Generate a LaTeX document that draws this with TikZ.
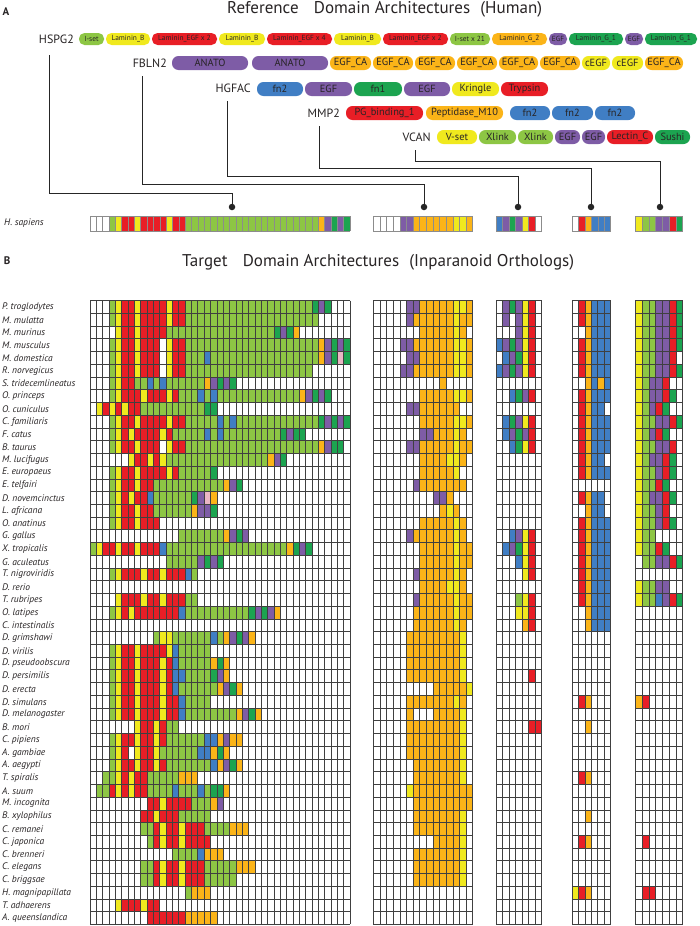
\documentclass[tikz,border=0pt]{standalone}
\usepackage{fontspec}
\setmainfont{PT Sans}
\usetikzlibrary{calc}
\definecolor{celly}{RGB}{240,233,30}
\definecolor{cellr}{RGB}{232,30,38}
\definecolor{cellg}{RGB}{141,198,68}
\definecolor{celld}{RGB}{28,164,80}
\definecolor{cellb}{RGB}{64,126,196}
\definecolor{cellp}{RGB}{126,92,166}
\definecolor{cello}{RGB}{251,180,24}
\definecolor{cellk}{RGB}{234,182,196}
\definecolor{txt}{RGB}{40,36,37}
\newcount\cellidx
\def\cellrow#1#2#3#4#5{\def\cellX{#1}\def\cellW{#2}\def\cellY{#3}\def\cellH{#4}\cellidx=0 \expandafter\cellloop#5\relax}
\def\cellloop#1{\ifx#1\relax\else\if#1w\else\fill[cell#1] ({\cellX+\the\cellidx*\cellW},\cellY) rectangle ++(\cellW,\cellH);\fi\advance\cellidx by 1 \expandafter\cellloop\fi}
\newcommand\sprow[7]{%
 \pgfmathsetmacro\rowtop{300.6+(#1-1)*12.73}%
 \cellrow{90}{6.341}{\rowtop}{12.73}{#3}%
 \cellrow{373.3}{6.627}{\rowtop}{12.73}{#4}%
 \cellrow{496}{6.53}{\rowtop}{12.73}{#5}%
 \cellrow{572}{6.45}{\rowtop}{12.73}{#6}%
 \cellrow{635.3}{6.77}{\rowtop}{12.73}{#7}%
 \node[splab] (sp#1) at (2,\rowtop+6.5) {#2};}
\newcommand\pill[7][pillL]{\node[#1, fill=cell#6, minimum width={#4-#3}] (#2) at ({(#3+#4)/2},#5) {#7};}
\tikzset{
 splab/.style={anchor=west, inner sep=0pt, text=txt, font=\fontsize{9.5}{10}\selectfont\itshape},
 pillL/.style={rectangle, rounded corners=6.5pt, inner sep=0pt, minimum height=14pt, text=txt, font=\fontsize{10.4}{11}\selectfont},
 pillS/.style={rectangle, rounded corners=5.5pt, inner sep=0pt, minimum height=12pt, text=txt, font=\fontsize{7.4}{8}\selectfont},
 gene/.style={anchor=east, inner sep=0pt, text=txt, font=\fontsize{12}{13}\selectfont},
 ttl/.style={anchor=base west, inner sep=0pt, text=txt, font=\fontsize{17}{18}\selectfont},
 panel/.style={anchor=center, inner sep=0pt, text=txt, font=\bfseries\fontsize{11}{12}\selectfont},
 gridl/.style={draw=black!75, line width=0.62pt},
 hgrid/.style={draw=black!45, line width=0.5pt},
 conn/.style={draw=black!85, line width=0.95pt},
 dot/.style={circle, fill=black!85, inner sep=0pt, minimum size=6.5pt},
}
\begin{document}
\begin{tikzpicture}[x=1pt,y=-1pt]
\useasboundingbox[fill=white] (0,0) rectangle (700,926);
% ---------- panel A ----------
\node[panel] (labA) at (6,12) {A};
\node[ttl] (ttlA) at (227,13.5) {Reference\hspace{0.9em}Domain Architectures\hspace{0.6em}(Human)};
\node[gene] (gH) at (74,39) {HSPG2};
\node[gene] (gF) at (167,63) {FBLN2};
\node[gene] (gG) at (251,88) {HGFAC};
\node[gene] (gM) at (340,113) {MMP2};
\node[gene] (gV) at (431,137) {VCAN};
\pill[pillS]{ph1}{79}{104}{39}{g}{I-set}
\pill[pillS]{ph2}{106}{150}{39}{y}{Laminin\_B}
\pill[pillS]{ph3}{152}{217}{39}{r}{Laminin\_EGF x 2}
\pill[pillS]{ph4}{219}{265}{39}{y}{Laminin\_B}
\pill[pillS]{ph5}{267}{332}{39}{r}{Laminin\_EGF x 4}
\pill[pillS]{ph6}{334}{381}{39}{y}{Laminin\_B}
\pill[pillS]{ph7}{383}{448}{39}{r}{Laminin\_EGF x 2}
\pill[pillS]{ph8}{450}{490}{39}{g}{I-set x 21}
\pill[pillS]{ph9}{492}{547}{39}{o}{Laminin\_G\_2}
\pill[pillS]{ph10}{549}{567}{39}{p}{EGF}
\pill[pillS]{ph11}{569}{623}{39}{d}{Laminin\_G\_1}
\pill[pillS]{ph12}{625}{643}{39}{p}{EGF}
\pill[pillS]{ph13}{645}{697}{39}{d}{Laminin\_G\_1}
\pill{pf1}{172}{248}{63}{p}{ANATO}
\pill{pf2}{252}{328}{63}{p}{ANATO}
\pill{pf3}{330}{371}{63}{o}{EGF\_CA}
\pill{pf4}{373}{413}{63}{o}{EGF\_CA}
\pill{pf5}{415}{455}{63}{o}{EGF\_CA}
\pill{pf6}{457}{497}{63}{o}{EGF\_CA}
\pill{pf7}{499}{538}{63}{o}{EGF\_CA}
\pill{pf8}{540}{580}{63}{o}{EGF\_CA}
\pill{pf9}{582}{610}{63}{y}{cEGF}
\pill{pf10}{612}{643}{63}{y}{cEGF}
\pill{pf11}{645}{683}{63}{o}{EGF\_CA}
\pill{pg1}{257}{303}{89}{b}{fn2}
\pill{pg2}{305}{352}{89}{p}{EGF}
\pill{pg3}{354}{402}{89}{d}{fn1}
\pill{pg4}{404}{450}{89}{p}{EGF}
\pill{pg5}{452}{499}{89}{y}{Kringle}
\pill{pg6}{501}{548}{89}{r}{Trypsin}
\pill{pm1}{346}{423}{113}{r}{PG\_binding\_1}
\pill{pm2}{426}{503}{113}{o}{Peptidase\_M10}
\pill{pm3}{510}{550}{113}{b}{fn2}
\pill{pm4}{552}{593}{113}{b}{fn2}
\pill{pm5}{595}{635}{113}{b}{fn2}
\pill{pv1}{437}{477}{137}{y}{V-set}
\pill{pv2}{479}{516}{137}{g}{Xlink}
\pill{pv3}{518}{553}{137}{g}{Xlink}
\pill{pv4}{555}{580}{137}{p}{EGF}
\pill{pv5}{582}{605}{137}{p}{EGF}
\pill{pv6}{607}{653}{137}{r}{Lectin\_C}
\pill{pv7}{655}{690}{137}{d}{Sushi}
% connectors
\node[dot] (dH) at (232,207) {};
\node[dot] (dF) at (424,207) {};
\node[dot] (dG) at (518,207) {};
\node[dot] (dM) at (591,207) {};
\node[dot] (dV) at (660,207) {};
\coordinate (cH) at (49,55);  \coordinate (bH) at (232,193);
\coordinate (cF) at (142,76); \coordinate (bF) at (424,184);
\coordinate (cG) at (227,101);\coordinate (bG) at (518,176);
\coordinate (cM) at (319,126);\coordinate (bM) at (591,168);
\coordinate (cV) at (415,150);\coordinate (bV) at (660,161);
\draw[conn] (cH) |- (bH) -- (dH);
\draw[conn] (cF) |- (bF) -- (dF);
\draw[conn] (cG) |- (bG) -- (dG);
\draw[conn] (cM) |- (bM) -- (dM);
\draw[conn] (cV) |- (bV) -- (dV);
% human row
\node[splab] (hsap) at (4,223.5) {H. sapiens};
\cellrow{90}{6.341}{216}{15}{wwwgy rryrr rryrr ggggg ggggg ggggg ggggg gopdp d}
\cellrow{373.3}{6.627}{216}{15}{wwwwp poooo ooyyo}
\cellrow{496}{6.53}{216}{15}{bpdpyrw}
\cellrow{572}{6.45}{216}{15}{wrobbb}
\cellrow{635.3}{6.77}{216}{15}{yggpprd}
\foreach \x/\w/\n in {90/6.341/41, 373.3/6.627/15, 496/6.53/7, 572/6.45/6, 635.3/6.77/7}{
  \foreach \k in {0,...,\n} \draw[hgrid] ({\x+\k*\w},216) -- ({\x+\k*\w},231);
  \draw[hgrid] (\x,216) -- ({\x+\n*\w},216);
  \draw[hgrid] (\x,231) -- ({\x+\n*\w},231);
}
% ---------- panel B ----------
\node[panel] (labB) at (7,261) {B};
\node[ttl] (ttlB) at (182,266.5) {Target\hspace{0.9em}Domain Architectures\hspace{0.6em}(Inparanoid Orthologs)};
\sprow{1}{P. troglodytes}{wwwgy rryrr rryrr ggggg ggggg ggggg ggggg dpd}{wwwww ppooo ooyyo}{wpdpyr}{wrobbb}{yggpprd}
\sprow{2}{M. mulatta}{wwwgy rryrr rryrr ggggg ggggg ggggg ggggg g}{wwwww poooo ooyoo}{wpwpyr}{wrobbb}{yggpprd}
\sprow{3}{M. murinus}{wwwwy rryrr rrggg ggggg ggggg ggggd pdo}{wwwww wwooo ooyo}{wwwpyr}{wwobbb}{yggpprd}
\sprow{4}{M. musculus}{wwwgy rryrr rwyrr ggggg ggggg ggggg ggggg gopdp d}{wwwwp poooo ooyyo}{bpdpyr}{wrobbb}{yggpprd}
\sprow{5}{M. domestica}{wwwgy rryrr rwyrr gggbg ggggg ggggg ggggg gopdk d}{wwwww ppooo ooyyo}{wbpdyr}{wrobbb}{yggppr}
\sprow{6}{R. norvegicus}{wwwgy rryrr rwyrr ggggg ggggg ggggg ggggg}{wwwwp poooo ooyyo}{bpdpyr}{wrobbb}{yggpprd}
\sprow{7}{S. tridecemlineatus}{wwwgy rrggb gbggg gggop dpd}{wwwww wwwww o}{}{wwobob}{ygppr}
\sprow{8}{O. princeps}{wwwgy rrryr rryrg ggbgb ggggg ggggg gggop dpd}{wwwww wwooo ooyyo}{wwbdpr}{wrobbb}{ygpprd}
\sprow{9}{O. cuniculus}{wyryr yrrgg ggggg gggdd}{wwwww ppooo ooo}{}{wrobb}{ygprd}
\sprow{10}{C. familiaris}{wwwgy rryrr rryrr ggggg bgbgg ggggg ggggg gdpdp d}{wwwww wwooo ooyyo}{wbdpyr}{wrobbb}{yggpprd}
\sprow{11}{F. catus}{wwwgy ryrrr ryrgg gggbg bgggg ggggg dpdd}{wwwww wwppo ooyo}{wbpdpr}{wrobbb}{ygprd}
\sprow{12}{B. taurus}{wwwgy rryrr rwyrr ggggg ggggg ggggg ggggg gopdd}{wwwww ppooo ooyoo}{wwbdyr}{wrobbb}{yggppr}
\sprow{13}{M. lucifugus}{wwwww wyrry ryggg ggggg ggggg gggop d}{wwwww wwooo oyyo}{}{wrobb}{ygpprd}
\sprow{14}{E. europaeus}{wwwgy rryrr rryrg ggggd}{wwwww wwooo ooy}{}{wrobbb}{yggprd}
\sprow{15}{E. telfairi}{wwwgy rryrr ggggg ggggg gopd}{wwwww wpooo oooo}{}{}{yggrd}
\sprow{16}{D. novemcinctus}{wwwgy ryrrb ggggg gdpko}{wwwww wwwwp po}{}{wrobb}{ygpprd}
\sprow{17}{L. africana}{wwwgy rryrr ggggg goppd}{wwwww wwwww oyo}{}{wwobb}{yggpr}
\sprow{18}{O. anatinus}{wwwgy rryrr r}{wwwww wwooo ooyo}{}{wrobbb}{yggprd}
\sprow{19}{G. gallus}{wwwww wwwww wwwwg ggggg gopdp}{wwwww poooo ooyo}{wwbpyr}{wrobbb}{ygg}
\sprow{20}{X. tropicalis}{gyrry rryrr rbggg ggggg ggggg ggggg godpd}{wwwww wwooo ooyoo}{wbpdyr}{wrobbb}{yggrd}
\sprow{21}{G. aculeatus}{wwwww wwwww wwggg ggpdp d}{wwwww wwooo ooyoo}{wwwbyr}{wrobbb}{wggpprd}
\sprow{22}{T. nigroviridis}{wwwgy rrryr ryrrr bg}{wwwww wpooo ooyo}{wwwwyr}{wrobbb}{}
\sprow{23}{D. rerio}{}{wwwww wwooo oyyo}{}{wrobbb}{yggpp}
\sprow{24}{T. rubripes}{wwwwy rrryr ryrrr gg}{wwwww wpooo ooyoo}{wwwgyr}{wrobbb}{yggbprd}
\sprow{25}{O. latipes}{wwwgy ryrrr rrrrb ggggg ggggg dpdpo}{wwwww woooo ooyoo}{wwwyyr}{wwobbb}{}
\sprow{26}{C. intestinalis}{}{wwwww woooo ooyo}{wwwwor}{wwobbb}{}
\sprow{27}{D. grimshawi}{wwwww wwwww gyygg ggggb gopdp o}{wwwww ooooo oooy}{}{}{}
\sprow{28}{D. virilis}{wwwgy rryrr rrybg gggg}{wwwww ooooo oooy}{}{}{}
\sprow{29}{D. pseudoobscura}{wwwgy rryrr ryrbg ggggo do}{wwwww ooooo oooy}{}{}{}
\sprow{30}{D. persimilis}{wwwgy rryrr ryrbb ggggd po}{wwwww ooooo oooy}{wwwwwr}{}{}
\sprow{31}{D. erecta}{wwwgy rryrr ryrbg ggggg opdo}{wwwww wwwwo ooooy}{}{}{}
\sprow{32}{D. simulans}{wwwgy rryrr ryrrb gggg}{wwwww ooooo ooyo}{}{wro}{or}
\sprow{33}{D. melanogaster}{wwwgy rryrr ryrrb ggggg gggop do}{wwwww owwwo oooy}{}{}{}
\sprow{34}{B. mori}{wwwww wwyrr yrgg}{wwwww ooooo oooy}{wwwwwrr}{wwo}{}
\sprow{35}{C. pipiens}{wwwgy rryrr yrggg gggbb opoo}{wwwww ooooo oooy}{}{}{}
\sprow{36}{A. gambiae}{wwwgy rwyrr ygggg ggbbo do}{wwwww ooooo oooy}{}{}{}
\sprow{37}{A. aegypti}{wwwgy rryrr yrggg ggggb opdo}{wwwww woooo oooy}{}{}{}
\sprow{38}{T. spiralis}{wwggy ryrrg ggggo oo}{wwwww woooo oooy}{}{wro}{}
\sprow{39}{A. suum}{wggry ryrrg gggbg ggbgd do}{wwwww yoooo ooooo}{}{}{}
\sprow{40}{M. incognita}{wwwww wwwwr ryrrr rgggo p}{wwwww woooo ooooo}{}{}{}
\sprow{41}{B. xylophilus}{wwwww wwwrr yrrrg gggg}{wwwww woooo oooy}{}{wwo}{}
\sprow{42}{C. remanei}{wwwww wwwgg ryrry rrrgg ggooo}{wwwww woooo oooy}{}{}{}
\sprow{43}{C. japonica}{wwwww wwwwg ryrry rrrr}{wwwww wwwwo oooy}{}{wro}{wr}
\sprow{44}{C. brenneri}{wwwww wwwww wwwgg ggboo o}{wwwww woooo oooy}{}{}{}
\sprow{45}{C. elegans}{wwwww wwwgg ryrry rrrgg gggoo o}{wwwww woooo oooy}{}{}{}
\sprow{46}{C. briggsae}{wwwww wwwgg ryrry rrrgg ggg}{wwwww woooo oooy}{}{}{}
\sprow{47}{H. magnipapillata}{wwwww wwwww wwwww gooo}{}{}{yro}{wrr}
\sprow{48}{T. adhaerens}{wwwwy rrryr r}{}{}{}{}
\sprow{49}{A. queenslandica}{wwwww wwwwr rrrrr ooooo}{}{}{}{}
\foreach \x/\w/\n in {90/6.341/41, 373.3/6.627/15, 496/6.53/7, 572/6.45/6, 635.3/6.77/7}{
  \foreach \k in {0,...,\n} \draw[gridl] ({\x+\k*\w},300.6) -- ({\x+\k*\w},924.4);
  \foreach \j in {0,...,49} \draw[gridl] (\x,{300.6+\j*12.73}) -- ({\x+\n*\w},{300.6+\j*12.73});
}
\end{tikzpicture}
\end{document}
